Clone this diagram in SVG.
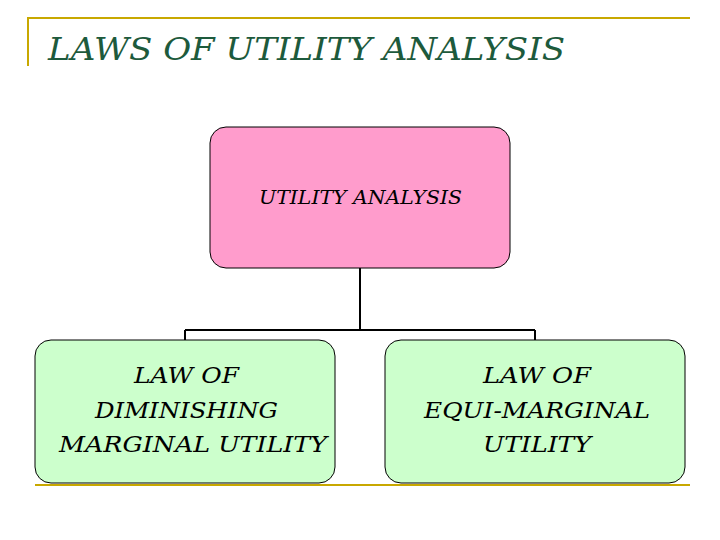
<svg xmlns="http://www.w3.org/2000/svg" width="720" height="540" viewBox="0 0 720 540">
<style>
.t{font-family:"DejaVu Serif","Liberation Serif",serif;font-style:italic;font-weight:normal}
.box{stroke:#000;stroke-width:1}
.c{stroke:#000;stroke-width:2;fill:none}
</style>
<rect width="720" height="540" fill="#fff"/>
<g id="frame" stroke="#c8a800" stroke-width="2" fill="none">
<path d="M28 66 V18 H690"/>
<path d="M35 485 H690"/>
</g>
<text class="t" x="48" y="60" font-size="32" fill="#1d5a3c" textLength="517" lengthAdjust="spacingAndGlyphs">LAWS OF UTILITY ANALYSIS</text>
<g id="connectors">
<path class="c" d="M360 268 V330 M185 330 H535 M185 330 V340 M535 330 V340"/>
</g>
<g id="root">
<rect class="box" x="210" y="127" width="300" height="141" rx="16" fill="#ff9ccc"/>
<text class="t" x="259" y="204" font-size="18" textLength="203" lengthAdjust="spacingAndGlyphs">UTILITY ANALYSIS</text>
</g>
<g id="left">
<rect class="box" x="35" y="340" width="300" height="143" rx="16" fill="#ccffcc"/>
<text class="t" font-size="23"><tspan x="134" y="383" textLength="105" lengthAdjust="spacingAndGlyphs">LAW OF</tspan><tspan x="95" y="418" textLength="183" lengthAdjust="spacingAndGlyphs">DIMINISHING</tspan><tspan x="59" y="452" textLength="268" lengthAdjust="spacingAndGlyphs">MARGINAL UTILITY</tspan></text>
</g>
<g id="right">
<rect class="box" x="385" y="340" width="300" height="143" rx="16" fill="#ccffcc"/>
<text class="t" font-size="23"><tspan x="483" y="383" textLength="108" lengthAdjust="spacingAndGlyphs">LAW OF</tspan><tspan x="424" y="418" textLength="226" lengthAdjust="spacingAndGlyphs">EQUI-MARGINAL</tspan><tspan x="483" y="452" textLength="108" lengthAdjust="spacingAndGlyphs">UTILITY</tspan></text>
</g>
</svg>
